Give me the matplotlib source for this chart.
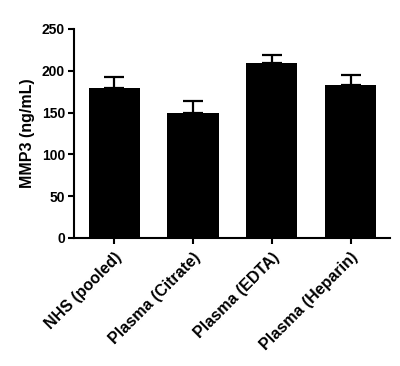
import matplotlib
matplotlib.use("Agg")
import matplotlib.pyplot as plt

categories = ["NHS (pooled)", "Plasma (Citrate)", "Plasma (EDTA)", "Plasma (Heparin)"]
means = [179, 149, 209, 183]
errors = [13, 15, 10, 12]
y_ticks = [0, 50, 100, 150, 200, 250]

plt.rcParams["font.family"] = ["Liberation Sans", "DejaVu Sans"]
plt.rcParams["font.weight"] = "bold"

fig = plt.figure(figsize=(4.0, 3.66), dpi=100)
ax = fig.add_axes([0.185, 0.35, 0.79, 0.571])

x = range(len(categories))
ax.bar(x, means, width=0.65, color="black", zorder=2)
ax.errorbar(x, means, yerr=[[0] * len(errors), errors], fmt="none",
            ecolor="black", elinewidth=1.6, capsize=7.5, capthick=1.6, zorder=1)

ax.set_xlim(-0.51, 3.5)
ax.set_ylim(0, 250)
ax.set_yticks(y_ticks)
ax.set_xticks(list(x))
ax.set_xticklabels(categories, rotation=45, ha="right", rotation_mode="anchor",
                   fontsize=11.5, fontweight="bold")
ax.tick_params(axis="y", labelsize=10, width=1.5, length=4.5, pad=2)
ax.tick_params(axis="x", width=1.5, length=4.5, pad=4)
for label in ax.get_yticklabels():
    label.set_fontweight("bold")
ax.set_ylabel("MMP3 (ng/mL)", fontsize=11.5, fontweight="bold", labelpad=5)

for side in ["top", "right"]:
    ax.spines[side].set_visible(False)
for side in ["left", "bottom"]:
    ax.spines[side].set_linewidth(1.5)

fig.savefig("out.png", dpi=100)
